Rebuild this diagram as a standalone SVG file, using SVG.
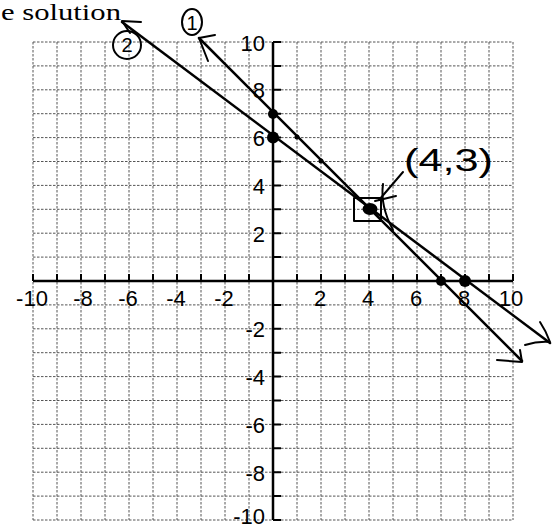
<svg xmlns="http://www.w3.org/2000/svg" width="560" height="530" viewBox="0 0 560 530">
<style>
.grid{stroke:#555;stroke-width:1;stroke-dasharray:2.5 1.5;fill:none}
.axis{stroke:#000;stroke-width:2.5;fill:none}
.tick{stroke:#000;stroke-width:2;fill:none}
.num{font-family:"Liberation Sans Narrow","Liberation Sans",Arial,sans-serif;font-size:22px;fill:#000}
.xl{text-anchor:middle}
.yl{text-anchor:end}
.ln{stroke:#000;stroke-width:2.5;fill:none;stroke-linecap:round;stroke-linejoin:round}
.hand{stroke:#000;stroke-width:2;fill:none;stroke-linecap:round;stroke-linejoin:round}
.dot{fill:#000}
.hw{font-family:"Liberation Sans",Arial,sans-serif;fill:#000}
</style>
<rect width="560" height="530" fill="#fff"/>
<g id="grid">
<path class="grid" d="M33,42V520M57,42V520M81,42V520M105,42V520M129,42V520M153,42V520M177,42V520M201,42V520M225,42V520M249,42V520M297,42V520M321,42V520M345,42V520M369,42V520M393,42V520M417,42V520M441,42V520M465,42V520M489,42V520M513,42V520"/>
<path class="grid" d="M33,42H513M33,65.9H513M33,89.8H513M33,113.7H513M33,137.6H513M33,161.5H513M33,185.4H513M33,209.3H513M33,233.2H513M33,257.1H513M33,304.9H513M33,328.8H513M33,352.7H513M33,376.6H513M33,400.5H513M33,424.4H513M33,448.3H513M33,472.2H513M33,496.1H513M33,520H513"/>
</g>
<g id="axes">
<path class="axis" d="M33,281H513M273,42V520"/>
<path class="tick" d="M33,281v-7M57,281v-7M81,281v-7M105,281v-7M129,281v-7M153,281v-7M177,281v-7M201,281v-7M225,281v-7M249,281v-7M297,281v-7M321,281v-7M345,281v-7M369,281v-7M393,281v-7M417,281v-7M441,281v-7M465,281v-7M489,281v-7M513,281v-7"/>
<path class="tick" d="M273,42h8M273,65.9h8M273,89.8h8M273,113.7h8M273,137.6h8M273,161.5h8M273,185.4h8M273,209.3h8M273,233.2h8M273,257.1h8M273,304.9h8M273,328.8h8M273,352.7h8M273,376.6h8M273,400.5h8M273,424.4h8M273,448.3h8M273,472.2h8M273,496.1h8M273,520h8"/>
</g>
<g id="x-labels" class="num xl">
<text x="32" y="306">-10</text>
<text x="83" y="306">-8</text>
<text x="128" y="306">-6</text>
<text x="176" y="306">-4</text>
<text x="224" y="306">-2</text>
<text x="320" y="306">2</text>
<text x="368" y="306">4</text>
<text x="416" y="306">6</text>
<text x="464" y="306">8</text>
<text x="511" y="306">10</text>
</g>
<g id="y-labels" class="num yl">
<text x="265" y="50.5">10</text>
<text x="265" y="98.3">8</text>
<text x="265" y="146">6</text>
<text x="265" y="194">4</text>
<text x="265" y="241.7">2</text>
<text x="265" y="337.3">-2</text>
<text x="265" y="385">-4</text>
<text x="265" y="433">-6</text>
<text x="265" y="481">-8</text>
<text x="265" y="524">-10</text>
</g>
<text id="title" x="1" y="20" font-family="'Liberation Serif','Times New Roman',serif" font-size="23" textLength="120" lengthAdjust="spacingAndGlyphs">e solution</text>
<g id="connectors">
<g id="line1">
<path class="ln" d="M199,38L522,361"/>
<path class="hand" d="M215,35L199,38L208,61"/>
<path class="hand" d="M497,360L522,362L520,350"/>
</g>
<g id="line2">
<path class="ln" d="M122,22L550,343"/>
<path class="hand" d="M141,22L122,21L130,33"/>
<path class="hand" d="M525,345Q538,341 550,342Q546,331 540,322"/>
</g>
<g id="pointer">
<path class="hand" d="M403,172L379,200"/>
<path class="hand" d="M383,184Q380,206 393,230"/>
<path class="hand" d="M375,201L396,196"/>
</g>
</g>
<g id="label-1">
<ellipse class="hand" cx="192" cy="22" rx="10" ry="13"/>
<text class="hw" x="192" y="30" font-size="20" text-anchor="middle">1</text>
</g>
<g id="label-2">
<ellipse class="hand" cx="127" cy="45" rx="14" ry="14"/>
<text class="hw" x="127" y="52" font-size="20" text-anchor="middle">2</text>
</g>
<g id="points">
<circle class="dot" cx="273" cy="114" r="5"/>
<circle class="dot" cx="273" cy="137.6" r="6"/>
<circle class="dot" cx="441" cy="281" r="5"/>
<circle class="dot" cx="465" cy="281" r="6"/>
<circle class="dot" cx="297" cy="137" r="2.5"/>
<circle class="dot" cx="321" cy="161" r="2.5"/>
</g>
<g id="solution">
<rect class="hand" x="354" y="198" width="27" height="23"/>
<ellipse class="dot" cx="370" cy="209" rx="7.5" ry="6"/>
<text class="hw" x="404" y="171" font-size="32" textLength="89" lengthAdjust="spacingAndGlyphs">(4,3)</text>
</g>
</svg>
